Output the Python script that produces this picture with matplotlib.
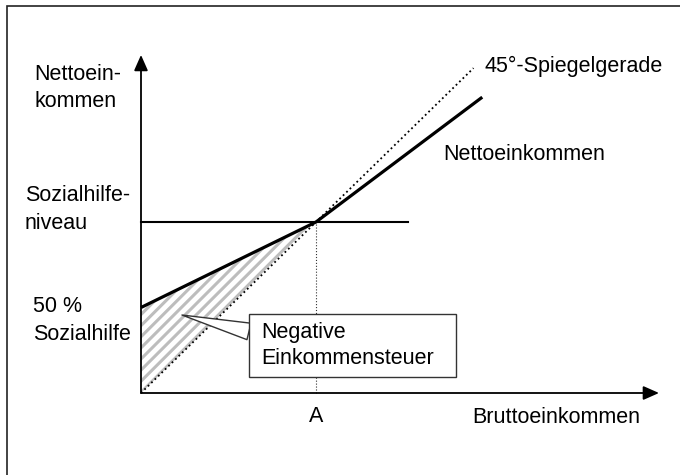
import numpy as np
import matplotlib
matplotlib.use('Agg')
import matplotlib.pyplot as plt
import matplotlib.patches as patches

plt.rcParams['font.family'] = ['Liberation Sans', 'DejaVu Sans']
plt.rcParams['hatch.linewidth'] = 2.2

# gross income in units of A, net income in units of the welfare level
a_point = 1.0
net_x = [0.0, 1.0, 1.95]
net_y = [0.5, 1.0, 1.73]
diag_x = [0.0, 1.9]
diag_y = [0.0, 1.9]
welfare_x = [0.0, 1.525]
welfare_y = [1.0, 1.0]
x_axis_end = 2.96
y_axis_end = 1.977

fig = plt.figure(figsize=(6.8, 4.75), dpi=100)
ax = fig.add_axes([0, 0, 1, 1])
ax.set_xlim(-141 / 175, 539 / 175)
ax.set_ylim(-82 / 171, 393 / 171)
ax.axis('off')

# frame (only left and top edges are inside the picture)
frame = patches.Rectangle((7 / 680, -0.1), 1.2, 1.1 - 6 / 475, transform=fig.transFigure,
                          fill=False, ec='#222222', lw=1.2, clip_on=False)
fig.add_artist(frame)

# hatched area = negative income tax
xs = np.linspace(0, a_point, 50)
upper = np.interp(xs, net_x, net_y)
lower = np.interp(xs, diag_x, diag_y)
ax.fill_between(xs, lower, upper, facecolor='none', edgecolor='#bdbdbd', hatch='///', lw=0, zorder=1)

ax.plot(welfare_x, welfare_y, color='black', lw=1.5, zorder=3)
ax.plot(diag_x, diag_y, color='black', lw=1.3, ls=':', zorder=3)
ax.plot([a_point, a_point], [0, welfare_y[0]], color='#333333', lw=0.8, ls=':', zorder=2)
ax.plot(net_x, net_y, color='black', lw=2.3, zorder=4, solid_capstyle='butt')

# axes with arrow heads
arrow = dict(arrowstyle='-|>,head_length=0.95,head_width=0.42', color='black', lw=1.3,
             shrinkA=0, shrinkB=0, mutation_scale=10)
ax.annotate('', xy=(x_axis_end, 0), xytext=(0, 0), arrowprops=arrow, zorder=5)
ax.annotate('', xy=(0, y_axis_end), xytext=(0, 0), arrowprops=arrow, zorder=5)

fs = 15.5
ax.text(-0.611, 1.784, 'Nettoein-\nkommen', fontsize=fs, ha='left', va='center', linespacing=1.4)
ax.text(-0.663, 1.073, 'Sozialhilfe-\nniveau', fontsize=fs, ha='left', va='center', linespacing=1.4)
ax.text(-0.617, 0.424, '50 %\nSozialhilfe', fontsize=fs, ha='left', va='center', linespacing=1.4)
ax.text(1.96, 1.912, '45°-Spiegelgerade', fontsize=fs, ha='left', va='center')
ax.text(1.726, 1.392, 'Nettoeinkommen', fontsize=fs, ha='left', va='center')
ax.text(a_point, -0.14, 'A', fontsize=fs, ha='center', va='center')
ax.text(1.891, -0.146, 'Bruttoeinkommen', fontsize=fs, ha='left', va='center')

# callout box with wedge pointing into the hatched area
box = patches.Rectangle((0.617, 0.094), 1.183, 0.368, fc='white', ec='#333333', lw=1, zorder=7)
ax.add_patch(box)
ax.annotate('', xy=(0.234, 0.456), xytext=(0.617, 0.36), zorder=6,
            arrowprops=dict(arrowstyle='wedge,tail_width=1.22', fc='white', ec='#333333', lw=1,
                            shrinkA=0, shrinkB=0, mutation_scale=10))
ax.text(0.686, 0.278, 'Negative\nEinkommensteuer', fontsize=fs, ha='left', va='center',
        linespacing=1.3, zorder=8)

fig.savefig('out.png', dpi=100)
